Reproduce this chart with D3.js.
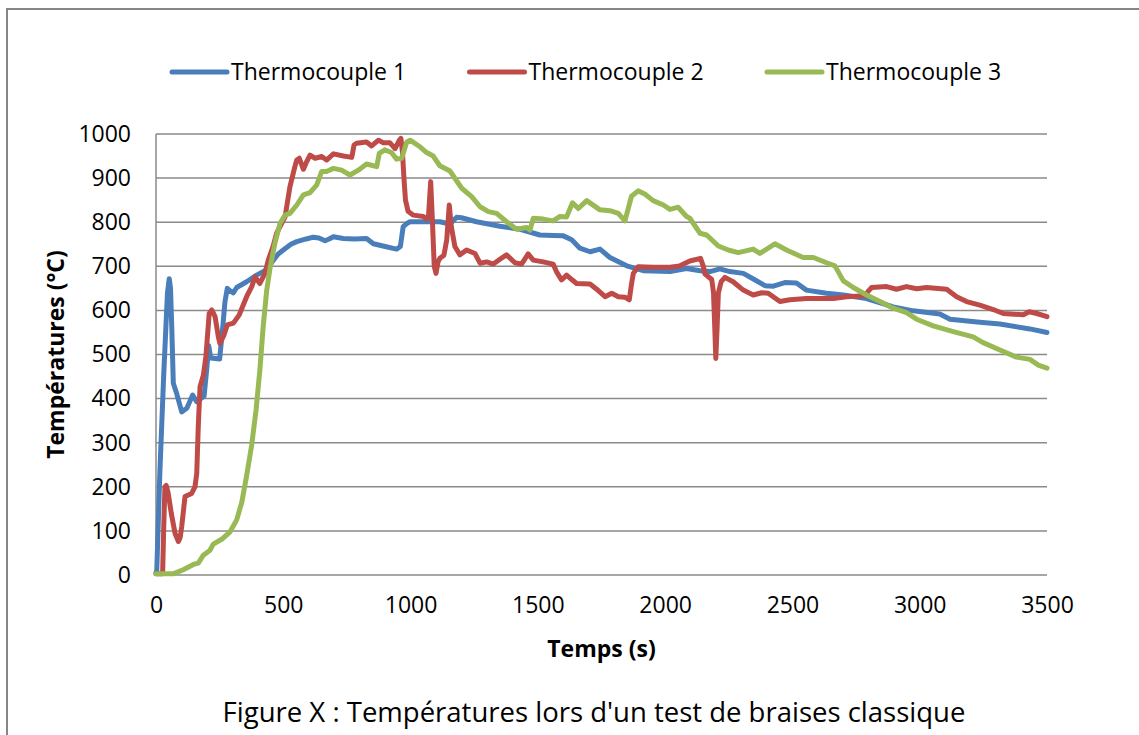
<!DOCTYPE html>
<html>
<head>
<meta charset="utf-8">
<script src="https://cdn.jsdelivr.net/npm/d3@7"></script>
<style>
  body { margin: 0; background: #fff; }
  svg { display: block; font-family: "Open Sans", sans-serif; }
</style>
</head>
<body>
<svg width="1139" height="735"></svg>
<script>
// temps (s), temperature (°C)
var thermocouple1 = [
    [0, 5], [3, 10], [15, 230], [30, 450], [45, 640], [52, 672], [57, 650], [62, 560], [68, 435],
    [81, 412], [101, 370], [121, 378], [144, 408], [160, 393], [189, 406], [199, 465], [207, 520],
    [215, 492], [250, 490], [262, 560], [271, 620], [280, 650], [290, 645], [304, 640], [317, 652],
    [356, 665], [395, 680], [435, 692], [461, 714], [480, 728], [500, 737], [530, 750], [553, 756],
    [590, 762], [618, 766], [640, 764], [664, 758], [680, 762], [697, 767], [736, 763], [780, 762],
    [827, 763], [854, 751], [900, 745], [945, 739], [960, 745], [971, 790], [985, 797], [998, 801],
    [1050, 801], [1115, 801], [1155, 796], [1181, 811], [1200, 810], [1259, 801], [1351, 791],
    [1430, 784], [1508, 771], [1560, 770], [1600, 769], [1633, 760], [1665, 741], [1705, 733],
    [1744, 739], [1783, 720], [1849, 701], [1914, 690], [2019, 688], [2084, 695], [2137, 690],
    [2176, 688], [2215, 694], [2254, 688], [2307, 684], [2350, 670], [2392, 656], [2425, 655],
    [2470, 663], [2516, 662], [2555, 646], [2634, 639], [2700, 635], [2791, 627], [2896, 608],
    [2975, 599], [3079, 592], [3119, 580], [3236, 573], [3315, 569], [3433, 558], [3500, 550]
];

var thermocouple2 = [
    [0, 3], [26, 3], [30, 100], [35, 200], [40, 203], [48, 185], [60, 140], [75, 94], [88, 76],
    [95, 85], [101, 110], [114, 178], [140, 185], [153, 200], [160, 230], [166, 336], [173, 427],
    [186, 453], [196, 495], [209, 593], [219, 601], [232, 586], [245, 540], [251, 525], [267, 544],
    [280, 567], [304, 571], [327, 590], [356, 631], [376, 654], [389, 676], [408, 661], [428, 684],
    [441, 714], [460, 745], [474, 775], [507, 812], [526, 880], [545, 925], [553, 941], [563, 945],
    [579, 920], [590, 935], [605, 952], [625, 945], [651, 949], [670, 941], [697, 955], [736, 950],
    [769, 947], [778, 975], [788, 979], [827, 982], [847, 973], [874, 986], [893, 980], [919, 980],
    [939, 967], [955, 985], [962, 990], [968, 960], [974, 900], [980, 850], [990, 825], [1011, 816],
    [1050, 813], [1063, 807], [1070, 810], [1079, 892], [1086, 800], [1093, 700], [1100, 684],
    [1108, 710], [1115, 718], [1131, 725], [1142, 760], [1152, 839], [1160, 790], [1174, 745],
    [1194, 726], [1220, 737], [1253, 729], [1273, 707], [1299, 710], [1325, 705], [1351, 716],
    [1377, 726], [1410, 708], [1436, 705], [1462, 728], [1482, 714], [1521, 710], [1560, 705],
    [1573, 688], [1593, 669], [1613, 680], [1633, 670], [1652, 661], [1705, 660], [1731, 648],
    [1764, 631], [1790, 639], [1816, 631], [1842, 630], [1859, 624], [1868, 660], [1875, 684],
    [1894, 699], [1953, 698], [2019, 698], [2058, 701], [2097, 712], [2139, 718], [2150, 700],
    [2156, 683], [2183, 670], [2190, 640], [2195, 560], [2199, 491], [2204, 560], [2209, 639],
    [2220, 665], [2235, 675], [2267, 665], [2307, 646], [2346, 635], [2379, 640], [2405, 639],
    [2451, 620], [2490, 624], [2555, 627], [2660, 627], [2713, 631], [2785, 633], [2800, 645],
    [2811, 652], [2870, 654], [2909, 648], [2948, 654], [2988, 649], [3027, 652], [3106, 648],
    [3145, 631], [3184, 620], [3236, 612], [3289, 602], [3328, 593], [3407, 590], [3430, 597],
    [3460, 593], [3500, 586]
];

var thermocouple3 = [
    [0, 3], [70, 3], [107, 12], [147, 24], [166, 27], [186, 45], [212, 56], [225, 70], [258, 81],
    [291, 98], [317, 125], [337, 165], [356, 225], [376, 295], [393, 374], [408, 465], [421, 563],
    [435, 646], [448, 696], [467, 752], [487, 797], [507, 816], [526, 820], [553, 839], [579, 862],
    [605, 867], [631, 884], [651, 915], [670, 915], [697, 922], [729, 918], [762, 907], [795, 918],
    [827, 932], [867, 926], [877, 956], [899, 964], [925, 958], [945, 943], [965, 945], [985, 982],
    [998, 986], [1037, 971], [1063, 958], [1089, 950], [1115, 928], [1155, 916], [1201, 877],
    [1240, 858], [1273, 835], [1306, 824], [1338, 820], [1377, 801], [1417, 784], [1456, 788],
    [1469, 782], [1482, 809], [1521, 807], [1560, 803], [1587, 813], [1613, 812], [1636, 844],
    [1659, 831], [1692, 849], [1744, 828], [1783, 826], [1816, 820], [1842, 803], [1868, 859],
    [1894, 871], [1920, 864], [1953, 849], [1993, 839], [2019, 829], [2051, 834], [2084, 813],
    [2097, 809], [2137, 775], [2163, 771], [2209, 746], [2248, 737], [2287, 731], [2346, 739],
    [2372, 729], [2431, 751], [2477, 737], [2542, 720], [2582, 720], [2634, 708], [2667, 701],
    [2700, 667], [2739, 652], [2791, 635], [2844, 620], [2896, 605], [2948, 595], [2988, 580],
    [3053, 565], [3132, 552], [3210, 540], [3249, 527], [3315, 510], [3380, 494], [3433, 489],
    [3466, 476], [3500, 469]
];

var seriesNames = ["Thermocouple 1", "Thermocouple 2", "Thermocouple 3"];
var seriesColors = ["#4a7ebb", "#be4b48", "#98b954"];
var xTicks = [0, 500, 1000, 1500, 2000, 2500, 3000, 3500];
var yTicks = [0, 100, 200, 300, 400, 500, 600, 700, 800, 900, 1000];

var series = [thermocouple1, thermocouple2, thermocouple3];

var svg = d3.select("svg"),
    width = +svg.attr("width"),
    height = +svg.attr("height");

var margin = { left: 156, right: 92, top: 134, bottom: 160 };
var plotW = width - margin.left - margin.right,
    plotH = height - margin.top - margin.bottom;

// chart frame, cut off on the right and bottom like the source picture
svg.append("rect")
    .attr("x", 7)
    .attr("y", 9)
    .attr("width", 1150)
    .attr("height", 740)
    .attr("fill", "#fff")
    .attr("stroke", "#868686")
    .attr("stroke-width", 2);

var x = d3.scaleLinear().domain([0, 3500]).range([0, plotW]);
var y = d3.scaleLinear().domain([0, 1000]).range([plotH, 0]);

var g = svg.append("g")
    .attr("transform", "translate(" + margin.left + "," + margin.top + ")");

// horizontal grid
g.append("g")
    .selectAll("line")
    .data(yTicks)
    .enter()
    .append("line")
    .attr("x1", 0)
    .attr("x2", plotW)
    .attr("y1", function (d) { return y(d); })
    .attr("y2", function (d) { return y(d); })
    .attr("stroke", "#8a8a8a")
    .attr("stroke-width", 1.5);

g.append("line")
    .attr("x1", 0).attr("x2", 0)
    .attr("y1", 0).attr("y2", plotH)
    .attr("stroke", "#8a8a8a")
    .attr("stroke-width", 1.5);

var yAxis = g.append("g")
    .call(d3.axisLeft(y).tickValues(yTicks).tickFormat(d3.format("d")).tickSize(0).tickPadding(25));

var xAxis = g.append("g")
    .attr("transform", "translate(0," + plotH + ")")
    .call(d3.axisBottom(x).tickValues(xTicks).tickFormat(d3.format("d")).tickSize(0).tickPadding(22));

[yAxis, xAxis].forEach(function (a) {
    a.select(".domain").remove();
    a.selectAll("text")
        .attr("fill", "#000")
        .style("font-family", "'Open Sans', sans-serif")
        .style("font-size", "23px");
});

var line = d3.line()
    .x(function (d) { return x(d[0]); })
    .y(function (d) { return y(d[1]); });

g.append("g")
    .selectAll("path")
    .data(series)
    .enter()
    .append("path")
    .attr("d", line)
    .attr("fill", "none")
    .attr("stroke", function (d, i) { return seriesColors[i]; })
    .attr("stroke-width", 5)
    .attr("stroke-linejoin", "round")
    .attr("stroke-linecap", "round");

// axis titles
svg.append("text")
    .attr("x", margin.left + plotW / 2)
    .attr("y", 657)
    .attr("text-anchor", "middle")
    .style("font-size", "23px")
    .style("font-weight", "bold")
    .text("Temps (s)");

svg.append("text")
    .attr("transform", "translate(64," + (margin.top + plotH / 2) + ") rotate(-90)")
    .attr("text-anchor", "middle")
    .style("font-size", "23px")
    .style("font-weight", "bold")
    .text("Températures (°C)");

svg.append("text")
    .attr("x", 594)
    .attr("y", 722)
    .attr("text-anchor", "middle")
    .style("font-size", "27.5px")
    .text("Figure X : Températures lors d'un test de braises classique");

// legend
var legend = svg.append("g")
    .selectAll("g")
    .data(seriesNames)
    .enter()
    .append("g")
    .attr("transform", function (d, i) { return "translate(" + (172 + i * 297.5) + ",72)"; });

legend.append("line")
    .attr("x1", 0)
    .attr("x2", 55)
    .attr("stroke", function (d, i) { return seriesColors[i]; })
    .attr("stroke-width", 5)
    .attr("stroke-linecap", "round");

legend.append("text")
    .attr("x", 59)
    .attr("y", 8)
    .style("font-size", "23px")
    .text(function (d) { return d; });
</script>
</body>
</html>
